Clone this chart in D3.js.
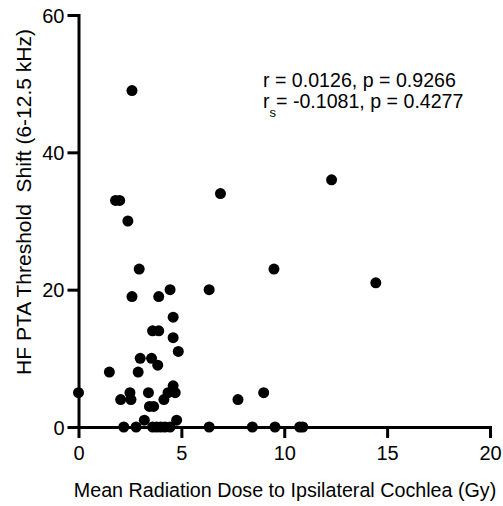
<!DOCTYPE html>
<html>
<head>
<meta charset="utf-8">
<script src="https://cdn.jsdelivr.net/npm/d3@7"></script>
<style>
  body { margin: 0; background: #fff; }
  text { font-family: "Liberation Sans", Arial, sans-serif; fill: #000; }
</style>
</head>
<body>
<div id="chart"></div>
<script>
// dose (Gy) and threshold shift (dB) for each ear
var dose = [0, 1.5, 1.8, 2.0, 2.05, 2.2, 2.4, 2.5, 2.55, 2.6, 2.6, 2.8, 2.9, 2.95, 3.0, 3.2,
    3.4, 3.45, 3.55, 3.6, 3.65, 3.6, 3.8, 3.85, 3.9, 3.9, 4.0, 4.15, 4.2, 4.35, 4.45, 4.45,
    4.6, 4.6, 4.6, 4.7, 4.77, 4.85, 6.35, 6.35, 6.9, 7.75, 8.45, 9.0, 9.5, 9.55, 10.75, 10.9,
    12.3, 14.45];
var shift = [5, 8, 33, 33, 4, 0, 30, 5, 4, 19, 49, 0, 8, 23, 10, 1,
    5, 3, 10, 14, 3, 0, 0, 9, 14, 19, 0, 4, 0, 5, 20, 0,
    16, 6, 13, 5, 1, 11, 0, 20, 34, 4, 0, 5, 23, 0, 0, 0,
    36, 21];
var xTicks = [0, 5, 10, 15, 20];
var yTicks = [0, 20, 40, 60];
var statLines = [
    {r: "r", sub: "", rest: " = 0.0126, p = 0.9266"},
    {r: "r", sub: "s", rest: "= -0.1081, p = 0.4277"}
];

var width = 503, height = 506;
var svg = d3.select("#chart").append("svg")
    .attr("width", width)
    .attr("height", height);

var x = d3.scaleLinear().domain([0, 20]).range([78.5, 490]);
var y = d3.scaleLinear().domain([0, 60]).range([427, 15]);

var xAxis = d3.axisBottom(x)
    .tickValues(xTicks)
    .tickSize(11)
    .tickSizeOuter(0)
    .tickPadding(8);

var yAxis = d3.axisLeft(y)
    .tickValues(yTicks)
    .tickSize(11)
    .tickSizeOuter(0)
    .tickPadding(3);

var gx = svg.append("g")
    .attr("transform", "translate(0," + y(0) + ")")
    .call(xAxis);

var gy = svg.append("g")
    .attr("transform", "translate(" + x(0) + ",0)")
    .call(yAxis);

[gx, gy].forEach(function(g){
    g.select(".domain")
        .attr("stroke", "#000")
        .attr("stroke-width", 3)
        .attr("stroke-linecap", "square");
    g.selectAll(".tick line")
        .attr("stroke", "#000")
        .attr("stroke-width", 3);
    g.selectAll(".tick text")
        .style("font-size", "20px")
        .attr("fill", "#000");
});
gy.selectAll(".tick text").attr("dy", "0.35em");

// points
svg.append("g").selectAll("circle")
    .data(dose.map(function(d, i){ return {x: d, y: shift[i]}; }))
    .enter()
    .append("circle")
    .attr("cx", function(d) { return x(d.x); })
    .attr("cy", function(d) { return y(d.y); })
    .attr("r", 5.5)
    .attr("fill", "#000");

// axis titles
svg.append("text")
    .attr("x", 285)
    .attr("y", 497)
    .attr("text-anchor", "middle")
    .style("font-size", "19.7px")
    .text("Mean Radiation Dose to Ipsilateral Cochlea (Gy)");

svg.append("text")
    .attr("transform", "translate(31,202) rotate(-90)")
    .attr("text-anchor", "middle")
    .style("font-size", "21px")
    .style("white-space", "pre")
    .text("HF PTA Threshold  Shift (6-12.5 kHz)");

// correlation stats
var stats = svg.append("g");
statLines.forEach(function(s, i){
    var t = stats.append("text")
        .attr("x", 263)
        .attr("y", 87 + i * 21)
        .style("font-size", "19.6px");
    t.append("tspan").text(s.r);
    if (s.sub) {
        t.append("tspan")
            .attr("dy", 9)
            .style("font-size", "13px")
            .text(s.sub);
        t.append("tspan").attr("dy", -9).text(s.rest);
    } else {
        t.append("tspan").text(s.rest);
    }
});
</script>
</body>
</html>
